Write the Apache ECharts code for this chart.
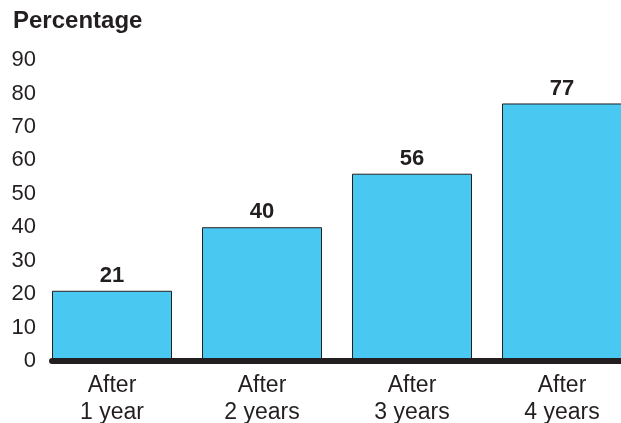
<!DOCTYPE html>
<html>
<head>
<meta charset="utf-8">
<script src="https://cdn.jsdelivr.net/npm/echarts@6/dist/echarts.min.js"></script>
<style>
    html, body { margin: 0; padding: 0; background: #fff; }
    #chart { width: 621px; height: 423px; }
</style>
</head>
<body>
<div id="chart"></div>
<script>
// 数据
const categories = ['After\n1 year', 'After\n2 years', 'After\n3 years', 'After\n4 years'];
const percentages = [21, 40, 56, 77];
const yMin = 0;
const yMax = 90;
const yStep = 10;

const ink = '#231f20';
const font = '"Liberation Sans", Arial, sans-serif';

const myEcharts = echarts.init(document.getElementById('chart'));
const options = {
    animation: false,
    textStyle: { fontFamily: font },
    title: {
        text: 'Percentage',
        left: 8,
        top: 4,
        textStyle: { fontSize: 24, fontWeight: 'bold', color: ink, fontFamily: font },
    },
    // 两个网格：一个画柱子，一个只画底部粗线
    // 最后一根柱子超出画布，所以网格宽度固定
    grid: [
        { left: 37, width: 600, top: 60, bottom: 62, outerBoundsMode: 'none' },
        { left: 52, width: 580, top: 60, bottom: 62, outerBoundsMode: 'none' },
    ],
    xAxis: [
        {
            type: 'category',
            gridIndex: 0,
            data: categories,
            axisLine: { show: false },
            axisTick: { show: false },
            axisLabel: {
                color: ink,
                fontSize: 23,
                lineHeight: 27,
                margin: 11,
                fontFamily: font,
            },
        },
        {
            type: 'category',
            gridIndex: 1,
            data: [],
            z: 5,
            axisLine: { show: true, lineStyle: { color: ink, width: 6 } },
            axisTick: { show: false },
            axisLabel: { show: false },
        },
    ],
    yAxis: [
        {
            type: 'value',
            gridIndex: 0,
            min: yMin,
            max: yMax,
            interval: yStep,
            axisLine: { show: false },
            axisTick: { show: false },
            splitLine: { show: false },
            axisLabel: { color: ink, fontSize: 22, margin: 1, fontFamily: font },
        },
        {
            type: 'value',
            gridIndex: 1,
            min: yMin,
            max: yMax,
            show: false,
        },
    ],
    series: [
        {
            type: 'bar',
            xAxisIndex: 0,
            yAxisIndex: 0,
            data: percentages,
            barWidth: 120,
            itemStyle: { color: '#49c8f2', borderColor: ink, borderWidth: 1 },
            label: {
                show: true,
                position: 'top',
                distance: 4,
                color: ink,
                fontSize: 22,
                fontWeight: 'bold',
                fontFamily: font,
            },
        },
    ],
};
myEcharts.setOption(options);
</script>
</body>
</html>
